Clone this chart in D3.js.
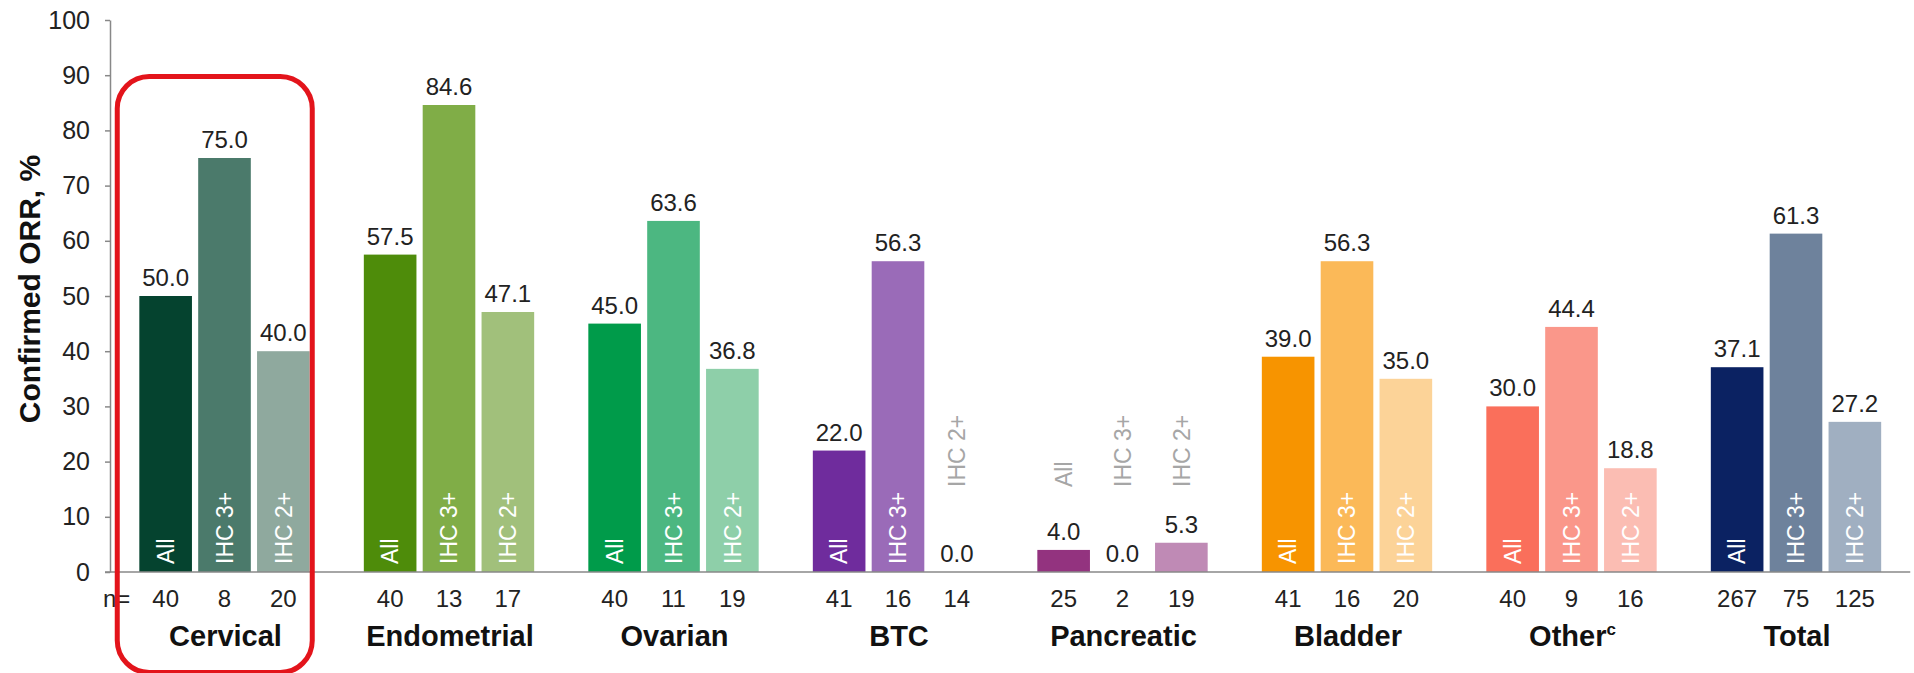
<!DOCTYPE html>
<html>
<head>
<meta charset="utf-8">
<script src="https://cdn.jsdelivr.net/npm/d3@7"></script>
<style>
  html, body { margin: 0; padding: 0; background: #fff; }
  svg { display: block; font-family: "Liberation Sans", Arial, sans-serif; }
</style>
</head>
<body>
<svg width="1914" height="673"></svg>
<script>
// tumour types and HER2 subgroups
var groups = ["Cervical", "Endometrial", "Ovarian", "BTC", "Pancreatic", "Bladder", "Other", "Total"];
var subgroups = ["All", "IHC 3+", "IHC 2+"];

// confirmed ORR, %
var orrAll  = [50.0, 57.5, 45.0, 22.0, 4.0, 39.0, 30.0, 37.1];
var orrIhc3 = [75.0, 84.6, 63.6, 56.3, 0.0, 56.3, 44.4, 61.3];
var orrIhc2 = [40.0, 47.1, 36.8, 0.0, 5.3, 35.0, 18.8, 27.2];

// n per bar
var nAll  = [40, 40, 40, 41, 25, 41, 40, 267];
var nIhc3 = [8, 13, 11, 16, 2, 16, 9, 75];
var nIhc2 = [20, 17, 19, 14, 19, 20, 16, 125];

var yTicks = [0, 10, 20, 30, 40, 50, 60, 70, 80, 90, 100];

// one colour triple per tumour type (All, IHC 3+, IHC 2+)
var colors = [
    ["#05432f", "#4b7a6b", "#8fa99e"],
    ["#4e8c0a", "#80ad47", "#a1c07b"],
    ["#009b4a", "#4cb781", "#8ecfa9"],
    ["#6f2c9d", "#9a6bb8", "#c7b0d8"],
    ["#93337f", "#b57aa8", "#bf8ab5"],
    ["#f79400", "#fbb958", "#fcd398"],
    ["#fa6f5b", "#fa978a", "#fbbdb3"],
    ["#0b2262", "#6e829c", "#a0afc1"]
];

var svg = d3.select("svg"),
    width = +svg.attr("width"),
    height = +svg.attr("height");

var margin = {left: 110, top: 20, bottom: 572};

var x0 = d3.scaleBand()
    .domain(groups)
    .range([112.25, 1908.25])
    .padding(0);

var x1 = d3.scaleBand()
    .domain(subgroups)
    .range([0, x0.bandwidth()])
    .paddingInner(0.106)
    .paddingOuter(0.46);

var y = d3.scaleLinear()
    .domain([0, 100])
    .range([margin.bottom, margin.top]);

var rows = [];
groups.forEach(function (g, i) {
    var vals = [orrAll[i], orrIhc3[i], orrIhc2[i]];
    var ns = [nAll[i], nIhc3[i], nIhc2[i]];
    subgroups.forEach(function (s, j) {
        rows.push({group: g, sub: s, value: vals[j], n: ns[j], color: colors[i][j]});
    });
});

// y axis
var yAxis = svg.append("g")
    .attr("transform", "translate(" + margin.left + ",0)")
    .call(d3.axisLeft(y).tickValues(yTicks).tickSize(5).tickSizeOuter(0).tickPadding(15));

yAxis.select(".domain").attr("stroke", "#888").attr("stroke-width", 1.5);
yAxis.selectAll(".tick line").attr("stroke", "#888").attr("stroke-width", 1.5);
yAxis.selectAll(".tick text")
    .attr("fill", "#222")
    .style("font-size", "25px")
    .style("font-family", "'Liberation Sans', Arial, sans-serif");

svg.append("text")
    .attr("transform", "translate(40," + (y(50) - 7) + ") rotate(-90)")
    .attr("text-anchor", "middle")
    .attr("fill", "#111")
    .style("font-size", "30px")
    .style("font-weight", "bold")
    .text("Confirmed ORR, %");

// bars
var bar = svg.append("g")
    .selectAll("g")
    .data(rows)
    .enter().append("g")
    .attr("transform", function (d) {
        return "translate(" + (x0(d.group) + x1(d.sub)) + ",0)";
    });

bar.append("rect")
    .attr("x", 0)
    .attr("width", x1.bandwidth())
    .attr("y", function (d) { return y(d.value); })
    .attr("height", function (d) { return y(0) - y(d.value); })
    .attr("fill", function (d) { return d.color; });

var bw = x1.bandwidth();

// value labels
bar.append("text")
    .attr("x", bw / 2)
    .attr("y", function (d) { return y(d.value) - 10; })
    .attr("text-anchor", "middle")
    .attr("fill", "#222")
    .style("font-size", "24px")
    .text(function (d) { return d.value.toFixed(1); });

// subgroup labels, white inside tall bars, grey above short ones
bar.append("text")
    .attr("transform", function (d) {
        var inside = y(0) - y(d.value) > 90;
        var yy = inside ? y(0) - 8 : y(0) - 85;
        return "translate(" + (bw / 2) + "," + yy + ") rotate(-90)";
    })
    .attr("dy", "0.36em")
    .attr("fill", function (d) {
        return y(0) - y(d.value) > 90 ? "#fff" : "#a6a6a6";
    })
    .style("font-size", "23px")
    .text(function (d) { return d.sub; });

// n labels
bar.append("text")
    .attr("x", bw / 2)
    .attr("y", y(0) + 35)
    .attr("text-anchor", "middle")
    .attr("fill", "#222")
    .style("font-size", "24px")
    .text(function (d) { return d.n; });

svg.append("text")
    .attr("x", margin.left - 7)
    .attr("y", y(0) + 35)
    .attr("fill", "#222")
    .style("font-size", "24px")
    .text("n=");

// baseline
svg.append("line")
    .attr("x1", margin.left - 5)
    .attr("x2", x0.range()[1] + 2)
    .attr("y1", y(0))
    .attr("y2", y(0))
    .attr("stroke", "#888")
    .attr("stroke-width", 1.5);

// group names
var names = svg.append("g")
    .selectAll("text")
    .data(groups)
    .enter().append("text")
    .attr("x", function (d) { return x0(d) + x0.bandwidth() / 2 + 1; })
    .attr("y", y(0) + 74)
    .attr("text-anchor", "middle")
    .attr("fill", "#111")
    .style("font-size", "29px")
    .style("font-weight", "bold")
    .text(function (d) { return d; });

names.filter(function (d) { return d === "Other"; })
    .append("tspan")
    .attr("dy", -11)
    .style("font-size", "17px")
    .text("c");

// red highlight around cervical
svg.append("rect")
    .attr("x", x0("Cervical") + 5)
    .attr("y", y(100) + 56.5)
    .attr("width", x0.bandwidth() - 29.5)
    .attr("height", 596)
    .attr("rx", 32)
    .attr("ry", 32)
    .attr("fill", "none")
    .attr("stroke", "#e3141b")
    .attr("stroke-width", 5);
</script>
</body>
</html>
